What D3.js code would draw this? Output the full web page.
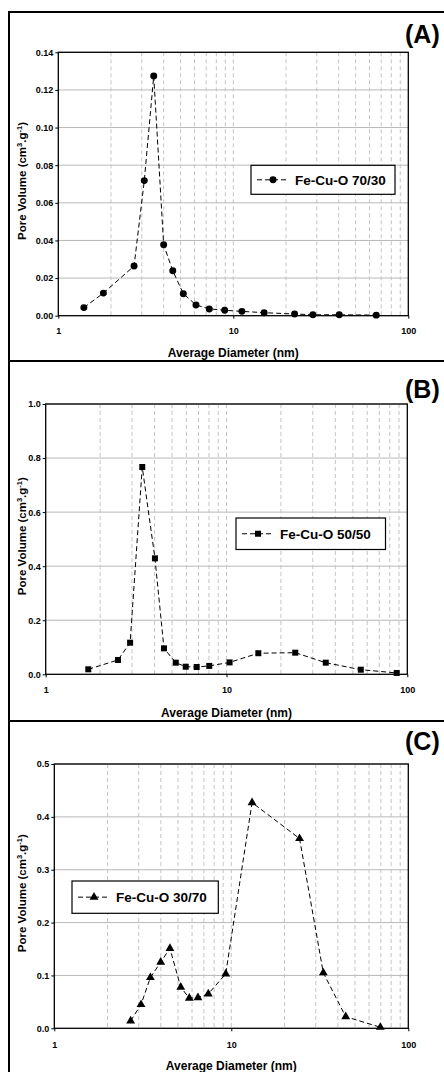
<!DOCTYPE html>
<html>
<head>
<meta charset="utf-8">
<script src="https://cdn.jsdelivr.net/npm/d3@7"></script>
<style>
body{margin:0;background:#fff;}
svg{display:block;font-family:'Liberation Sans',Arial,sans-serif;font-weight:bold;}
</style>
</head>
<body>
<script>
const width=444;
const height=1072;

// pore size distributions
const diaA=[1.40,1.81,2.71,3.10,3.51,4.0,4.51,5.18,6.12,7.29,8.93,11.2,15.0,22.4,28.5,40.3,65.6];
const volA=[0.0043,0.012,0.0264,0.0718,0.1274,0.0377,0.0239,0.0117,0.0057,0.0036,0.0029,0.0023,0.0016,0.0009,0.0005,0.0005,0.0003];
const diaB=[1.72,2.51,2.93,3.42,4.02,4.51,5.24,5.95,6.84,8.03,10.4,15.0,24.0,35.4,55.3,87.4];
const volB=[0.0185,0.053,0.117,0.767,0.429,0.096,0.043,0.028,0.027,0.031,0.044,0.078,0.080,0.043,0.017,0.005];
const diaC=[2.70,3.09,3.49,3.99,4.50,5.18,5.79,6.48,7.41,9.30,13.1,24.3,33.1,44.3,69.5];
const volC=[0.014,0.045,0.096,0.125,0.151,0.078,0.057,0.058,0.065,0.103,0.427,0.359,0.105,0.022,0.002];

const ticksA=[0,0.02,0.04,0.06,0.08,0.10,0.12,0.14];
const ticksB=[0,0.2,0.4,0.6,0.8,1.0];
const ticksC=[0,0.1,0.2,0.3,0.4,0.5];
const xTicks=[1,10,100];
const gridX=[2,3,4,5,6,7,8,9,10,20,30,40,50,60,70,80,90];

const svg=d3.select('body').append('svg').attr('width',width).attr('height',height);

const panels=[
  {tag:'(A)',name:'Fe-Cu-O 70/30',dia:diaA,vol:volA,ticks:ticksA,fmt:'.2f',marker:'circle',
   box:12,boxEnd:361,l:58.3,r:408.3,t:52.3,b:315.7,tickY:334,titleY:357,tagY:42.5,leg:[251,165.3,395,194.3]},
  {tag:'(B)',name:'Fe-Cu-O 50/50',dia:diaB,vol:volB,ticks:ticksB,fmt:'.1f',marker:'square',
   box:361,boxEnd:721,l:45.7,r:407.3,t:404,b:674.3,tickY:693,titleY:717,tagY:397.5,leg:[236,518,385.5,549.5]},
  {tag:'(C)',name:'Fe-Cu-O 30/70',dia:diaC,vol:volC,ticks:ticksC,fmt:'.1f',marker:'triangle',
   box:721,boxEnd:1090,l:54.3,r:408.3,t:764,b:1028.3,tickY:1048,titleY:1070,tagY:750,leg:[72,881,218.3,913.3]}
];

const symbols={circle:d3.symbolCircle,square:d3.symbolSquare,triangle:d3.symbolTriangle};
const sizes={circle:38,square:36,triangle:34};

panels.forEach(p=>{
  const g=svg.append('g');
  // outer frame, runs off the right edge like the reference
  g.append('rect').attr('x',9).attr('y',p.box).attr('width',460).attr('height',p.boxEnd-p.box)
    .attr('fill','none').attr('stroke','#000').attr('stroke-width',2);

  const x=d3.scaleLog().domain([1,100]).range([p.l,p.r]);
  const y=d3.scaleLinear().domain([0,d3.max(p.ticks)]).range([p.b,p.t]);

  g.selectAll('.hg').data(p.ticks.slice(1)).enter().append('line')
    .attr('x1',p.l).attr('x2',p.r).attr('y1',d=>y(d)).attr('y2',d=>y(d))
    .attr('stroke','#b8b8b8').attr('stroke-width',1);
  g.selectAll('.vg').data(gridX).enter().append('line')
    .attr('x1',d=>x(d)).attr('x2',d=>x(d)).attr('y1',p.t).attr('y2',p.b)
    .attr('stroke','#c4c4c4').attr('stroke-width',1).attr('stroke-dasharray','4,3');

  g.append('rect').attr('x',p.l).attr('y',p.t).attr('width',p.r-p.l).attr('height',p.b-p.t)
    .attr('fill','none').attr('stroke','#000').attr('stroke-width',1.3);

  const yAxis=d3.axisLeft(y).tickValues(p.ticks).tickFormat(d3.format(p.fmt)).tickSize(3).tickPadding(2);
  const ya=g.append('g').attr('transform',`translate(${p.l},0)`).call(yAxis);
  ya.select('.domain').remove();
  ya.selectAll('text').style('font-size','9px').style('font-weight','bold').attr('fill','#000')
    .style('font-family',"'Liberation Sans',Arial,sans-serif");

  const xAxis=d3.axisBottom(x).tickValues(xTicks).tickFormat(d3.format('d')).tickSize(3);
  const xa=g.append('g').attr('transform',`translate(0,${p.b})`).call(xAxis);
  xa.select('.domain').remove();
  xa.selectAll('text').attr('y',p.tickY-p.b).attr('dy',0).style('font-size','9px').style('font-weight','bold')
    .attr('fill','#000').style('font-family',"'Liberation Sans',Arial,sans-serif");

  const pts=p.dia.map((d,i)=>[x(d),y(p.vol[i])]);
  g.append('path').attr('d',d3.line()(pts)).attr('fill','none').attr('stroke','#000')
    .attr('stroke-width',1).attr('stroke-dasharray','5,3');
  const sym=d3.symbol().type(symbols[p.marker]).size(sizes[p.marker]);
  g.selectAll('.pt').data(pts).enter().append('path').attr('d',sym)
    .attr('transform',d=>`translate(${d[0]},${d[1]})`).attr('fill','#000');

  g.append('text').text('Average Diameter (nm)').attr('x',(p.l+p.r)/2).attr('y',p.titleY)
    .attr('text-anchor','middle').style('font-size','12px');

  const yt=g.append('text').attr('transform',`translate(26,${(p.t+p.b)/2-3}) rotate(-90)`)
    .attr('text-anchor','middle').style('font-size','11.5px');
  yt.append('tspan').text('Pore Volume (cm');
  yt.append('tspan').text('3').attr('dy',-4).style('font-size','7.5px');
  yt.append('tspan').text('.g').attr('dy',4);
  yt.append('tspan').text('-1').attr('dy',-4).style('font-size','7.5px');
  yt.append('tspan').text(')').attr('dy',4);

  g.append('text').text(p.tag).attr('x',405).attr('y',p.tagY).style('font-size','25px');

  const [lx0,ly0,lx1,ly1]=p.leg;
  g.append('rect').attr('x',lx0).attr('y',ly0).attr('width',lx1-lx0).attr('height',ly1-ly0)
    .attr('fill','#fff').attr('stroke','#000').attr('stroke-width',1.2);
  const my=(ly0+ly1)/2;
  g.append('line').attr('x1',lx0+6).attr('x2',lx0+38).attr('y1',my).attr('y2',my)
    .attr('stroke','#000').attr('stroke-dasharray','5,3');
  g.append('path').attr('d',sym).attr('transform',`translate(${lx0+22},${my})`).attr('fill','#000');
  g.append('text').text(p.name).attr('x',lx0+44).attr('y',my+5).style('font-size','13.5px');
});
</script>
</body>
</html>
